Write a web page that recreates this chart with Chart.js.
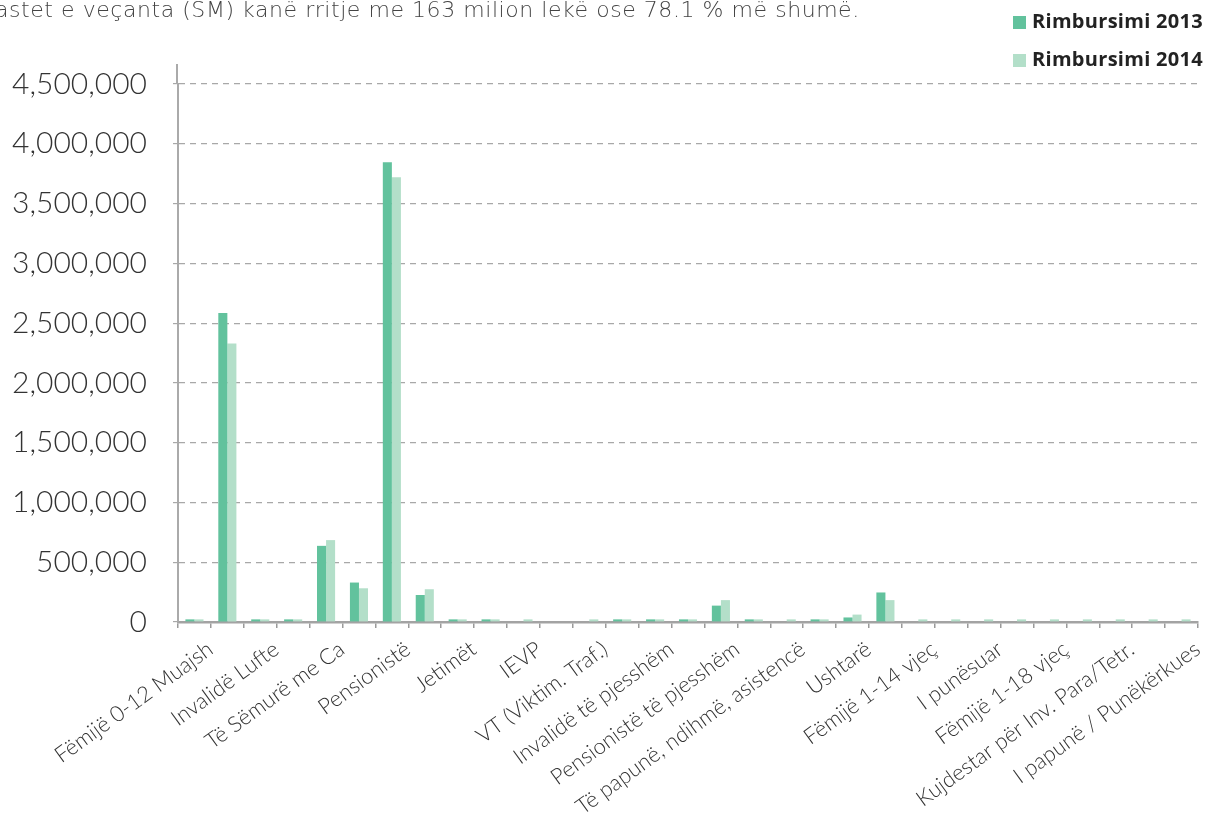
<!DOCTYPE html>
<html>
<head>
<meta charset="utf-8">
<script src="https://cdn.jsdelivr.net/npm/chart.js@4/dist/chart.umd.min.js"></script>
<style>
  body { margin: 0; background: #fff; }
  #wrap { position: relative; width: 1209px; height: 821px; overflow: hidden; }
  #note { position: absolute; left: -5px; top: -3px; font: 200 22px "DejaVu Sans", sans-serif; color: #444; white-space: nowrap; letter-spacing: 0.55px; }
  #legend { position: absolute; left: 1013px; top: 10px; font: 700 20px "Open Sans", sans-serif; color: #222; letter-spacing: 0.3px; }
  #legend div { height: 38px; line-height: 22px; white-space: nowrap; }
  #legend span { display: inline-block; width: 13px; height: 13px; margin-right: 6px; vertical-align: -1px; }
</style>
</head>
<body>
<div id="wrap">
  <canvas id="chart" width="1209" height="821"></canvas>
  <div id="note">astet e veçanta (SM) kanë rritje me 163 milion lekë ose 78.1 % më shumë.</div>
  <div id="legend"></div>
</div>
<script>
// categories: only every other one carries a readable label in the picture
let categories = [
  'Fëmijë 0-12 Muajsh', '', 'Invalidë Lufte', '', 'Të Sëmurë me Ca', '', 'Pensionistë', '',
  'Jetimët', '', 'IEVP', '', 'VT (Viktim. Traf.)', '', 'Invalidë të pjesshëm', '',
  'Pensionistë të pjesshëm', '', 'Të papunë, ndihmë, asistencë', '', 'Ushtarë', '',
  'Fëmijë 1-14 vjeç', '', 'I punësuar', '', 'Fëmijë 1-18 vjeç', '',
  'Kujdestar për Inv. Para/Tetr.', '', 'I papunë / Punëkërkues'
];

let series_names = ['Rimbursimi 2013', 'Rimbursimi 2014'];
let series_colors = ['#62c29d', '#b3dfc9'];

let values_2013 = [22000, 2585000, 22000, 22000, 637000, 330000, 3846000, 226000,
                   22000, 22000, 0, 0, 0, 22000, 22000, 22000,
                   137000, 22000, 0, 22000, 38000, 247000,
                   0, 0, 0, 0, 0, 0, 0, 0, 0];
let values_2014 = [22000, 2330000, 22000, 22000, 685000, 282000, 3720000, 274000,
                   22000, 22000, 22000, 0, 22000, 22000, 22000, 22000,
                   183000, 22000, 22000, 22000, 62000, 183000,
                   22000, 22000, 22000, 22000, 22000, 22000, 22000, 22000, 22000];

let y_max = 4500000;
let y_step = 500000;

/* legend built from the series names and colours */
let legend = document.getElementById('legend');
series_names.forEach(function(name, i){
    let row = document.createElement('div');
    row.innerHTML = '<span style="background:' + series_colors[i] + '"></span>' + name;
    legend.appendChild(row);
});

let datasets = [values_2013, values_2014].map(function(vals, i){
    return {
        label: series_names[i],
        data: vals,
        backgroundColor: series_colors[i],
        borderWidth: 0,
        categoryPercentage: 0.55,
        barPercentage: 1.0
    };
});

/* the y axis line runs a little above the top gridline */
let axisTop = {
    id: 'axisTop',
    afterDraw: function(chart){
        let ctx = chart.ctx;
        let x = chart.scales.y.right;
        ctx.save();
        ctx.strokeStyle = '#aaaaaa';
        ctx.lineWidth = 2;
        ctx.beginPath();
        ctx.moveTo(x - 1, chart.chartArea.top - 20);
        ctx.lineTo(x - 1, chart.chartArea.top);
        ctx.stroke();
        ctx.restore();
    }
};

new Chart(document.getElementById('chart'), {
    type: 'bar',
    data: { labels: categories, datasets: datasets },
    plugins: [axisTop],
    options: {
        responsive: false,
        animation: false,
        layout: { padding: { top: 84, right: 11, left: 0, bottom: 0 } },
        plugins: { legend: { display: false }, tooltip: { enabled: false } },
        scales: {
            x: {
                afterFit: function(scale){ scale.height = 199; },
                grid: { display: true, drawOnChartArea: false, drawTicks: true, tickLength: 6, color: '#9a9a9a', lineWidth: 1.5 },
                border: { display: true, color: '#a3a3a3', width: 2.5 },
                ticks: {
                    autoSkip: false,
                    minRotation: 36,
                    maxRotation: 36,
                    padding: 8,
                    labelOffset: 16,
                    color: '#333',
                    font: { family: 'Lato', weight: '300', size: 22 }
                }
            },
            y: {
                min: 0,
                max: y_max,
                afterFit: function(scale){ scale.width = 178; },
                grid: { color: '#a8a8a8', lineWidth: 1.2, tickLength: 5 },
                border: { display: true, color: '#aaaaaa', width: 2, dash: [6, 5] },
                ticks: {
                    stepSize: y_step,
                    padding: 26,
                    color: '#333',
                    font: { family: 'Lato', weight: '300', size: 30 },
                    callback: function(v){ return v.toLocaleString('en-US'); }
                }
            }
        }
    }
});
</script>
</body>
</html>
